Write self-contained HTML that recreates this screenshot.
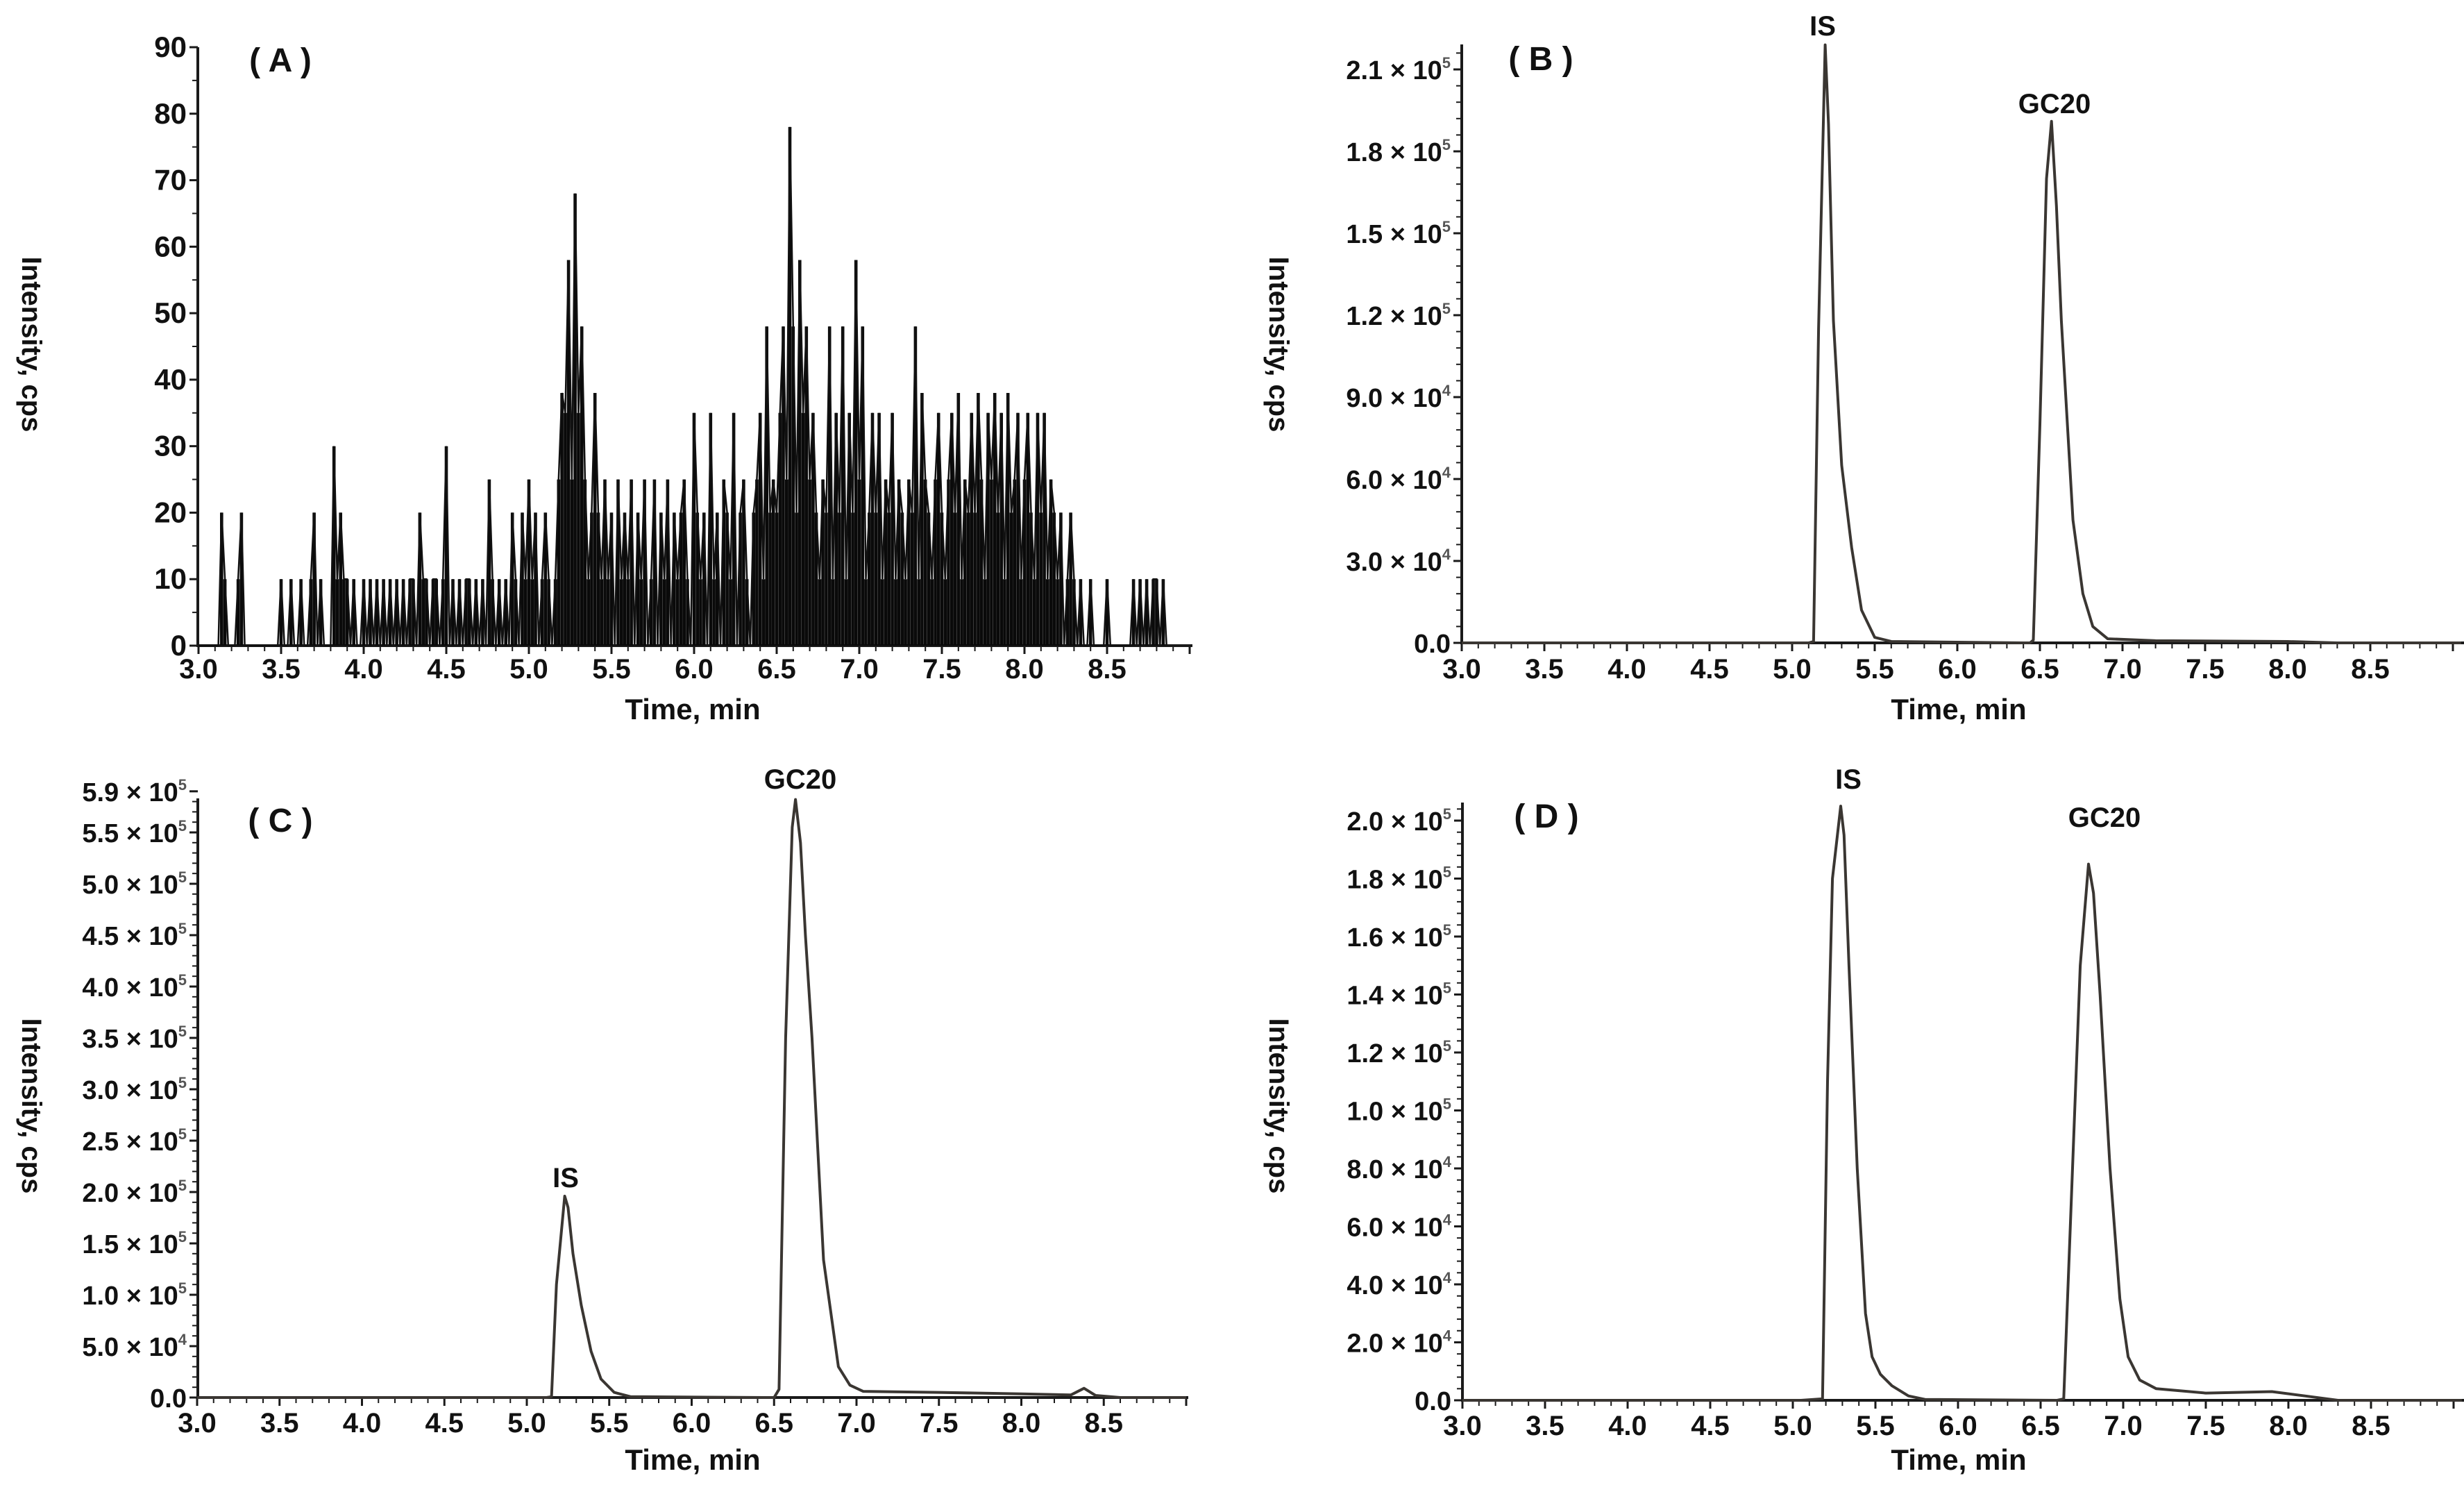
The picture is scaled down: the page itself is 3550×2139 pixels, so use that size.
<!DOCTYPE html>
<html><head><meta charset="utf-8"><style>
html,body{margin:0;padding:0;background:#fff;}
svg{display:block;}
text{font-family:"Liberation Sans",Arial,sans-serif;font-weight:bold;fill:#111;}
</style></head><body>
<svg id="fig" width="3550" height="2139" viewBox="0 0 3550 2139" xmlns="http://www.w3.org/2000/svg">
<rect width="3550" height="2139" fill="#fff"/>
</svg>
<script>
// ---------- data ----------
const xTickLabels = ["3.0","3.5","4.0","4.5","5.0","5.5","6.0","6.5","7.0","7.5","8.0","8.5"];
const xTickValues = [3.0,3.5,4.0,4.5,5.0,5.5,6.0,6.5,7.0,7.5,8.0,8.5];

// Panel A: blank noise, sampled every 0.02 min from 3.00
const aStart = 3.0;
const aStep = 0.02;
const aValues = [
0,0,0,0,0, 0,0,20,10,0, 0,0,10,20,0, 0,0,0,0,0, 0,0,0,0,0,
10,0,0,10,0, 0,10,0,0,10, 20,0,10,0,0, 0,30,10,20,10, 10,0,10,0,0,
10,0,10,0,10, 0,10,0,10,0, 10,0,10,0,10, 10,0,20,10,10, 0,10,10,0,10,
30,0,10,0,10, 0,10,10,0,10, 0,10,0,25,10, 0,10,0,10,0, 20,10,0,20,10,
25,10,20,0,10, 20,10,0,10,25, 38,35,58,25,68, 35,48,25,10,20, 38,20,10,25,10,
20,0,25,10,20, 10,25,0,20,10, 25,0,10,25,0, 20,10,25,0,20, 10,20,25,10,0,
35,20,10,20,0, 35,10,20,0,25, 20,10,35,0,20, 25,10,0,20,25, 35,10,48,20,25,
20,35,48,25,78, 48,20,58,35,48, 25,35,20,10,25, 20,48,10,35,20, 48,10,35,20,58,
25,48,10,20,35, 20,35,10,25,20, 35,10,25,20,10, 25,20,48,10,38, 25,20,10,25,35,
20,10,25,35,20, 38,10,25,20,35, 20,38,25,10,35, 25,38,20,35,10, 38,20,25,35,10,
25,35,20,10,35, 20,35,10,25,20, 10,20,0,10,20, 10,0,10,0,0, 10,0,0,0,0,
10,0,0,0,0, 0,0,0,10,0, 10,0,10,0,10, 10,0,10,0
];

// Panel B
const bTimes = [3.0,5.10,5.13,5.16,5.20,5.22,5.25,5.30,5.36,5.42,5.50,5.60,6.40,6.44,6.46,6.50,6.54,6.57,6.60,6.63,6.70,6.76,6.82,6.91,7.20,8.00,8.30,9.05];
const bValues = [0,0,500,115000,219000,190000,118000,65000,35000,12000,2000,500,0,0,1000,80000,170000,191000,160000,118000,45000,18000,6000,1500,800,500,0,0];
// Panel C
const cTimes = [3.0,5.12,5.15,5.18,5.23,5.25,5.28,5.33,5.39,5.45,5.53,5.63,6.45,6.50,6.53,6.57,6.61,6.63,6.66,6.69,6.73,6.80,6.89,6.96,7.04,7.50,8.00,8.30,8.38,8.45,8.60,9.0];
const cValues = [0,0,800,110000,196000,185000,140000,90000,45000,18000,5000,800,0,0,8000,350000,555000,582000,540000,450000,350000,134000,30000,12000,6000,5000,3500,2500,9000,2000,0,0];
// Panel D
const dTimes = [3.0,5.05,5.18,5.21,5.24,5.29,5.31,5.34,5.39,5.44,5.48,5.53,5.60,5.70,5.80,6.60,6.64,6.68,6.74,6.79,6.82,6.86,6.92,6.98,7.03,7.10,7.20,7.50,7.90,8.10,8.30,9.05];
const dValues = [0,0,500,110000,180000,205000,195000,150000,80000,30000,15000,9000,5000,1500,300,0,500,60000,150000,185000,175000,140000,80000,35000,15000,7000,4000,2500,3000,1500,0,0];

// y-axis tick values/labels
const aYTicks = [0,10,20,30,40,50,60,70,80,90];
const bYTicks = [0,30000,60000,90000,120000,150000,180000,210000];
const bYMant = ["0.0","3.0","6.0","9.0","1.2","1.5","1.8","2.1"];
const bYExp  = ["","4","4","4","5","5","5","5"];
const cYTicks = [0,50000,100000,150000,200000,250000,300000,350000,400000,450000,500000,550000,590000];
const cYMant = ["0.0","5.0","1.0","1.5","2.0","2.5","3.0","3.5","4.0","4.5","5.0","5.5","5.9"];
const cYExp  = ["","4","5","5","5","5","5","5","5","5","5","5","5"];
const dYTicks = [0,20000,40000,60000,80000,100000,120000,140000,160000,180000,200000];
const dYMant = ["0.0","2.0","4.0","6.0","8.0","1.0","1.2","1.4","1.6","1.8","2.0"];
const dYExp  = ["","4","4","4","4","5","5","5","5","5","5"];

// ---------- layout ----------
const NS = "http://www.w3.org/2000/svg";
const svg = document.getElementById('fig');
function mk(tag, attrs, parent){ const e=document.createElementNS(NS,tag); for(const k in attrs) e.setAttribute(k,attrs[k]); (parent||svg).appendChild(e); return e; }

const panels = [
 {id:'a', ax:285, x0:286, pxMin:238, y0:930, yTop:68, xEnd:1718, yMinorStep:5, label:'( A )', lx:404, ly:103, ylx:46, yly:496, tlx:998, tly:1036, tky:977},
 {id:'b', ax:2106, x0:2106, pxMin:238, y0:926, yTop:64, xEnd:3550, yMinorStep:6000, label:'( B )', lx:2220, ly:101, ylx:1843, yly:496, tlx:2822, tly:1036, tky:977},
 {id:'c', ax:285, x0:284, pxMin:237.5, y0:2013, yTop:1150, xEnd:1712, yMinorStep:10000, label:'( C )', lx:404, ly:1198, ylx:46, yly:1593, tlx:998, tly:2117, tky:2063},
 {id:'d', ax:2107, x0:2107, pxMin:238, y0:2017, yTop:1156, xEnd:3550, yMinorStep:4000, label:'( D )', lx:2228, ly:1192, ylx:1843, yly:1593, tlx:2822, tly:2117, tky:2067}
];
panels[0].ppu = (930-68)/90;
panels[1].ppu = 118/30000;
panels[2].ppu = 74/50000;
panels[3].ppu = 83.5/20000;

function xs(p,t){ return p.x0 + (t-3)*p.pxMin; }
function ys(p,v){ return p.y0 - v*p.ppu; }

panels.forEach(p=>{
  const g = mk('g',{});
  
  
  const yAxis = mk('line',{x1:p.ax,y1:p.yTop,x2:p.ax,y2:p.y0+2,stroke:'#1a1a1a','stroke-width':4},g);
  
  
  const xAxis = mk('line',{x1:p.ax-2,y1:p.y0,x2:p.xEnd,y2:p.y0,stroke:'#1a1a1a','stroke-width':4},g);
  
  
  for(let i=0;i<=60;i++){
    const t=3+i*0.1, x=xs(p,t);
    if(x>p.xEnd-2) break;
    const major = (i%5===0);
    mk('line',{x1:x,y1:p.y0,x2:x,y2:p.y0+(major?12:8),stroke:'#1a1a1a','stroke-width':major?3:2},g);
  }
  xTickValues.forEach((t,i)=>{
    const tx = mk('text',{x:xs(p,t),y:p.tky,'text-anchor':'middle','font-size':40},g);
    tx.textContent = xTickLabels[i];
    
    
  });
  const xt = mk('text',{x:p.tlx,y:p.tly,'text-anchor':'middle','font-size':42},g);
  xt.textContent='Time, min';
  
  
  const yt = mk('text',{x:0,y:0,'text-anchor':'middle','font-size':40,transform:`translate(${p.ylx-14},${p.yly}) rotate(90)`},g);
  yt.textContent='Intensity, cps';
  
  
  const pl = mk('text',{x:p.lx,y:p.ly,'text-anchor':'middle','font-size':48},g);
  pl.textContent=p.label;
  
  
  for(let v=0; ys(p,v)>=p.yTop-1; v+=p.yMinorStep){
    const y=ys(p,v);
    mk('line',{x1:p.ax-8,y1:y,x2:p.ax,y2:y,stroke:'#1a1a1a','stroke-width':2},g);
  }
  p.g=g;
});

function yLabels(p, ticks, mant, exp){
  ticks.forEach((v,i)=>{
    const y = ys(p,v);
    mk('line',{x1:p.ax-12,y1:y,x2:p.ax,y2:y,stroke:'#1a1a1a','stroke-width':3},p.g);
    const t = mk('text',{x:p.ax-16,y:y+14,'text-anchor':'end','font-size':exp?38:42},p.g);
    
    
    if(!exp){ t.textContent = String(mant[i]); return; }
    if(exp[i]===''){ t.textContent = mant[i]; return; }
    const s1 = mk('tspan',{},t); s1.textContent = mant[i]+' \u00d7 10';
    const s2 = mk('tspan',{dy:-16,'font-size':22,fill:'#555'},t); s2.textContent = exp[i];
  });
}
yLabels(panels[0], aYTicks, aYTicks, null);
yLabels(panels[1], bYTicks, bYMant, bYExp);
yLabels(panels[2], cYTicks, cYMant, cYExp);
yLabels(panels[3], dYTicks, dYMant, dYExp);

(function(){
  const p=panels[0];
  let d='', dl='';
  aValues.forEach((v,i)=>{
    const x = xs(p, aStart + i*aStep);
    if(v>0) d += `M${x.toFixed(1)},${p.y0}V${ys(p,v).toFixed(1)}`;
    dl += (i?'L':'M')+x.toFixed(1)+','+ys(p,v).toFixed(1);
  });
  const sp = mk('path',{d:d,stroke:'#0a0a0a','stroke-width':4.6,fill:'none'},p.g);
  
  
  const ln = mk('path',{d:dl,stroke:'#111','stroke-width':2.5,fill:'none'},p.g);
  
  
})();

function trace(p, times, vals, name){
  let d='';
  times.forEach((t,i)=>{
    const x = Math.min(xs(p,t), p.xEnd);
    d += (i?'L':'M')+x.toFixed(1)+','+ys(p,vals[i]).toFixed(1);
  });
  const e = mk('path',{d:d,stroke:'#3a3632','stroke-width':4,fill:'none','stroke-linejoin':'round'},p.g);
  
  
}
trace(panels[1], bTimes, bValues, 'trace-b');
trace(panels[2], cTimes, cValues, 'trace-c');
trace(panels[3], dTimes, dValues, 'trace-d');

function peakLabel(x,y,txt,name){
  const t = mk('text',{x:x,y:y,'text-anchor':'middle','font-size':40});
  t.textContent = txt;
  
  
}
peakLabel(2626,51,'IS','peak-label-is-b');
peakLabel(2960,163,'GC20','peak-label-gc20-b');
peakLabel(815,1710,'IS','peak-label-is-c');
peakLabel(1153,1136,'GC20','peak-label-gc20-c');
peakLabel(2663,1136,'IS','peak-label-is-d');
peakLabel(3032,1191,'GC20','peak-label-gc20-d');
</script>
</body></html>
